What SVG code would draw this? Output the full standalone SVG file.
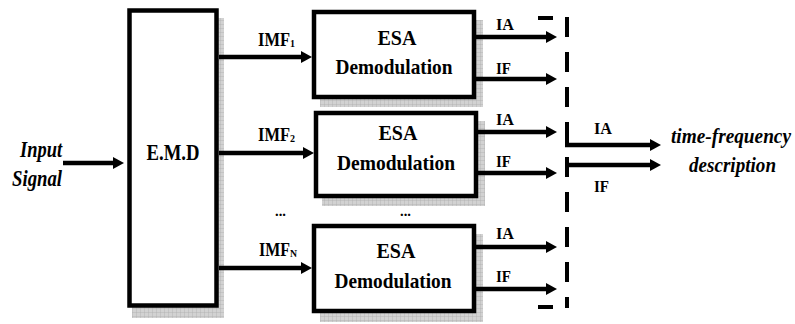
<svg xmlns="http://www.w3.org/2000/svg" width="795" height="324" viewBox="0 0 795 324">
  <style>
    .box { fill: #ffffff; stroke: #000000; stroke-width: 4.5; }
    .shadow { fill: url(#grid); }
    .wire { stroke: #000000; stroke-width: 4.5; fill: none; marker-end: url(#head); }
    .dash { stroke: #000000; stroke-width: 4; fill: none; }
  </style>
  <defs>
    <pattern id="grid" width="4" height="4" patternUnits="userSpaceOnUse">
      <rect width="4" height="4" fill="#d2d2d2"/>
      <path d="M0,0 V4 M0,0 H4" stroke="#a9a9a9" stroke-width="0.7"/>
    </pattern>
    <marker id="head" markerUnits="userSpaceOnUse" markerWidth="12" markerHeight="14" refX="2" refY="7" orient="auto">
      <path d="M0,1 L11,7 L0,13 z" fill="#000000"/>
    </marker>
  </defs>

  <rect width="795" height="324" fill="#ffffff"/>

  <!-- input label -->
  <g id="input">
    <text x="20" y="157" font-family="Liberation Serif" font-weight="bold" font-style="italic" font-size="24" textLength="42" lengthAdjust="spacingAndGlyphs">Input</text>
    <text x="12" y="186" font-family="Liberation Serif" font-weight="bold" font-style="italic" font-size="24" textLength="50" lengthAdjust="spacingAndGlyphs">Signal</text>
  </g>

  <!-- empirical mode decomposition block -->
  <g id="emd">
    <rect class="shadow" x="132" y="18" width="92" height="300"/>
    <rect class="box" x="129.5" y="10.5" width="87" height="295"/>
    <text x="173" y="160" font-family="Liberation Serif" font-weight="bold" font-size="24" text-anchor="middle" textLength="53" lengthAdjust="spacingAndGlyphs">E.M.D</text>
  </g>

  <!-- demodulation blocks -->
  <g id="esa1">
    <rect class="shadow" x="320" y="20" width="163" height="87"/>
    <rect class="box" x="314" y="12" width="160" height="85"/>
    <text x="397" y="45" font-family="Liberation Serif" font-weight="bold" font-size="22" text-anchor="middle" textLength="39" lengthAdjust="spacingAndGlyphs">ESA</text>
    <text x="394" y="74" font-family="Liberation Serif" font-weight="bold" font-size="22" text-anchor="middle" textLength="117" lengthAdjust="spacingAndGlyphs">Demodulation</text>
  </g>
  <g id="esa2">
    <rect class="shadow" x="322" y="121" width="163" height="85"/>
    <rect class="box" x="316" y="113" width="160" height="83"/>
    <text x="398" y="140" font-family="Liberation Serif" font-weight="bold" font-size="22" text-anchor="middle" textLength="39" lengthAdjust="spacingAndGlyphs">ESA</text>
    <text x="396" y="170" font-family="Liberation Serif" font-weight="bold" font-size="22" text-anchor="middle" textLength="118" lengthAdjust="spacingAndGlyphs">Demodulation</text>
  </g>
  <g id="esa3">
    <rect class="shadow" x="320" y="234" width="163" height="88"/>
    <rect class="box" x="314" y="226" width="160" height="85"/>
    <text x="396" y="258" font-family="Liberation Serif" font-weight="bold" font-size="22" text-anchor="middle" textLength="39" lengthAdjust="spacingAndGlyphs">ESA</text>
    <text x="393" y="288" font-family="Liberation Serif" font-weight="bold" font-size="22" text-anchor="middle" textLength="117" lengthAdjust="spacingAndGlyphs">Demodulation</text>
  </g>

  <!-- output label -->
  <g id="output">
    <text x="671" y="143" font-family="Liberation Serif" font-weight="bold" font-style="italic" font-size="21" textLength="120" lengthAdjust="spacingAndGlyphs">time-frequency</text>
    <text x="689" y="172" font-family="Liberation Serif" font-weight="bold" font-style="italic" font-size="21" textLength="87" lengthAdjust="spacingAndGlyphs">description</text>
  </g>

  <!-- connectors -->
  <g id="connectors">
    <line class="wire" x1="63" y1="163" x2="115" y2="163"/>

    <line class="wire" x1="219" y1="57" x2="303" y2="57"/>
    <line class="wire" x1="219" y1="153" x2="305" y2="153"/>
    <line class="wire" x1="219" y1="268" x2="303" y2="268"/>

    <line class="wire" x1="476" y1="37" x2="548" y2="37"/>
    <line class="wire" x1="476" y1="79" x2="548" y2="79"/>
    <line class="wire" x1="478" y1="132" x2="548" y2="132"/>
    <line class="wire" x1="478" y1="173" x2="548" y2="173"/>
    <line class="wire" x1="476" y1="247" x2="548" y2="247"/>
    <line class="wire" x1="476" y1="289" x2="548" y2="289"/>

    <!-- collecting bracket -->
    <path class="dash" d="M567,17 V308" stroke-dasharray="20 15"/>
    <path class="dash" d="M538,18 H553 M538,307 H553"/>
    <path class="dash" d="M567,122 V145"/>
    <line class="wire" x1="565" y1="145" x2="652" y2="145" stroke-width="4"/>
    <line class="wire" x1="567" y1="165" x2="652" y2="165" stroke-width="4"/>

    <!-- signal labels -->
    <text x="258" y="46" font-family="Liberation Serif" font-weight="bold" font-size="18" textLength="37" lengthAdjust="spacingAndGlyphs">IMF<tspan font-size="11" dy="1">1</tspan></text>
    <text x="258" y="141" font-family="Liberation Serif" font-weight="bold" font-size="18" textLength="37" lengthAdjust="spacingAndGlyphs">IMF<tspan font-size="11" dy="1">2</tspan></text>
    <text x="259" y="256" font-family="Liberation Serif" font-weight="bold" font-size="18" textLength="38" lengthAdjust="spacingAndGlyphs">IMF<tspan font-size="11" dy="1">N</tspan></text>

    <text x="275" y="216" font-family="Liberation Serif" font-weight="bold" font-size="14" textLength="11" lengthAdjust="spacingAndGlyphs">...</text>
    <text x="400" y="216" font-family="Liberation Serif" font-weight="bold" font-size="14" textLength="11" lengthAdjust="spacingAndGlyphs">...</text>

    <text x="496" y="30" font-family="Liberation Serif" font-weight="bold" font-size="17" textLength="18" lengthAdjust="spacingAndGlyphs">IA</text>
    <text x="496" y="74" font-family="Liberation Serif" font-weight="bold" font-size="17" textLength="15" lengthAdjust="spacingAndGlyphs">IF</text>
    <text x="496" y="125" font-family="Liberation Serif" font-weight="bold" font-size="17" textLength="18" lengthAdjust="spacingAndGlyphs">IA</text>
    <text x="496" y="167" font-family="Liberation Serif" font-weight="bold" font-size="17" textLength="15" lengthAdjust="spacingAndGlyphs">IF</text>
    <text x="496" y="239" font-family="Liberation Serif" font-weight="bold" font-size="17" textLength="18" lengthAdjust="spacingAndGlyphs">IA</text>
    <text x="496" y="282" font-family="Liberation Serif" font-weight="bold" font-size="17" textLength="15" lengthAdjust="spacingAndGlyphs">IF</text>

    <text x="594" y="134" font-family="Liberation Serif" font-weight="bold" font-size="17" textLength="18" lengthAdjust="spacingAndGlyphs">IA</text>
    <text x="594" y="192" font-family="Liberation Serif" font-weight="bold" font-size="17" textLength="15" lengthAdjust="spacingAndGlyphs">IF</text>
  </g>
</svg>
